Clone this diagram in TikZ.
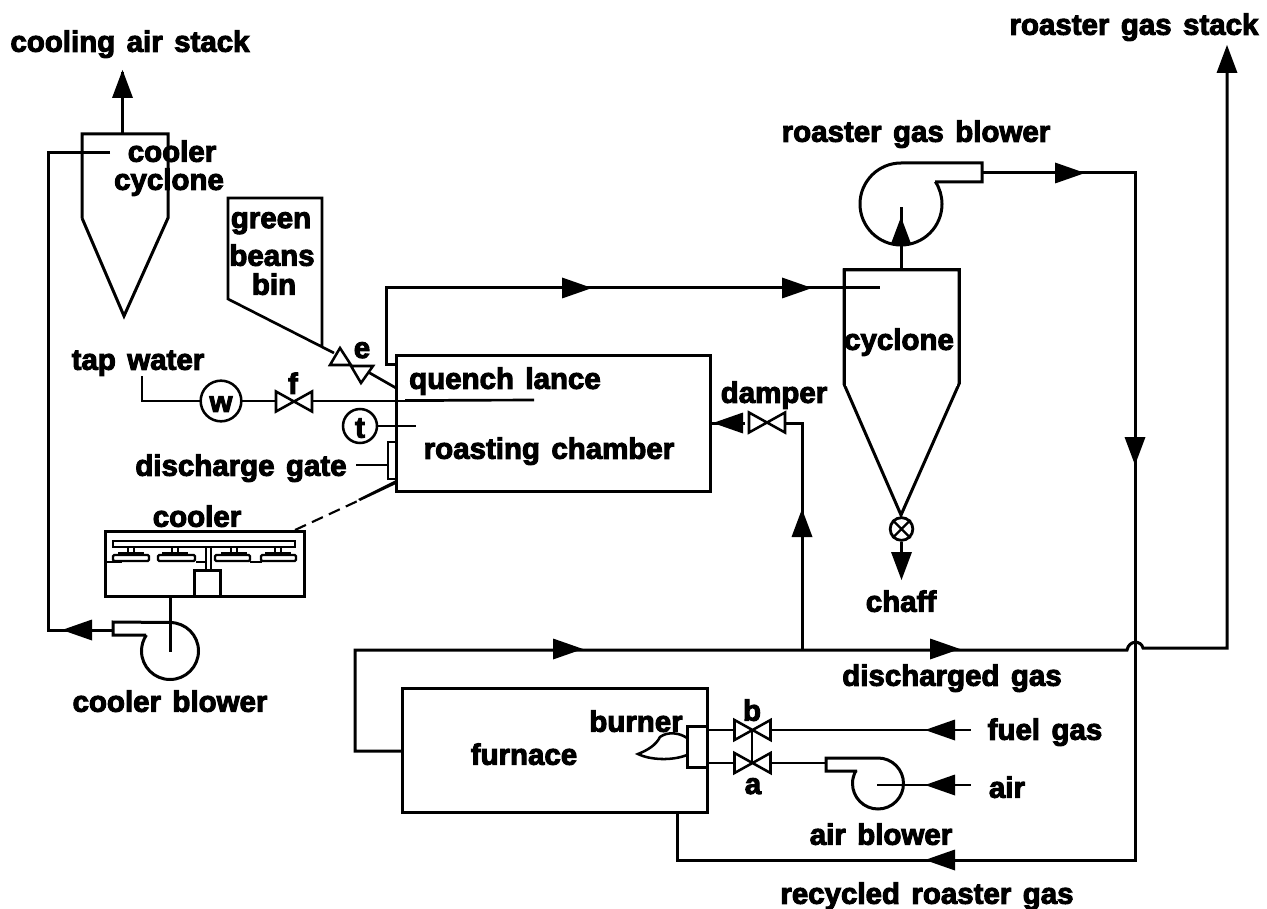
\documentclass[tikz,border=0pt]{standalone}
\usepackage{fontspec}
\setmainfont{Liberation Sans}[BoldFeatures={FakeBold=3.4,WordSpace=1.4}]
\usetikzlibrary{calc}
\tikzset{
  pipe/.style={line width=2.25pt,line join=miter,line cap=butt},
  thinline/.style={line width=1.5pt},
  lab/.style={font=\bfseries\fontsize{22.1}{23}\selectfont,inner sep=0pt,text=black,anchor=center,yshift=-0.9pt},
  ring/.style={circle,draw,line width=1.9pt,fill=white,inner sep=0pt},
  box/.style={rectangle,draw,line width=2.25pt,inner sep=0pt},
  flowR/.pic={\fill (0,0) -- (-30,-10.5) -- (-30,10.5) -- cycle;},
  flowL/.pic={\fill (0,0) -- (30,-10.5) -- (30,10.5) -- cycle;},
  flowU/.pic={\fill (0,0) -- (-10.5,28) -- (10.5,28) -- cycle;},
  flowD/.pic={\fill (0,0) -- (-10.5,-28) -- (10.5,-28) -- cycle;},
  bowtie/.pic={\draw[line width=1.9pt,fill=white,line join=miter] (-18,-10) -- (18,10) -- (18,-10) -- (-18,10) -- cycle;},
}
\begin{document}
\begin{tikzpicture}[x=0.75pt,y=-0.75pt]
\useasboundingbox (0,0) rectangle (1267,909);

% ---- named ports
\coordinate (stackC) at (122.5,72);
\coordinate (ccTop) at (122.5,134);
\coordinate (ccIn) at (110,153);
\coordinate (ccInC) at (48,153);
\coordinate (cbC) at (48,630);
\coordinate (cbOut) at (113,630);
\coordinate (cbHub) at (170,652);
\coordinate (coolerOut) at (170,596);
\coordinate (tapS) at (142,376);
\coordinate (tapC) at (142,401);
\coordinate (lanceEnd) at (534,400);
\coordinate (gateIn) at (356,465);
\coordinate (gateOut) at (388,465);
\coordinate (ventA) at (396,364);
\coordinate (ventB) at (386,364);
\coordinate (ventC) at (386,288);
\coordinate (cyIn) at (880,288);
\coordinate (cyTop) at (901,270);
\coordinate (rbHub) at (901,207);
\coordinate (rbOut) at (982,173);
\coordinate (rC1) at (1135,173);
\coordinate (rC2) at (1135,860);
\coordinate (rC3) at (677,860);
\coordinate (fBot) at (677,812);
\coordinate (fLeft) at (402,751);
\coordinate (fC1) at (355,751);
\coordinate (fC2) at (355,650);
\coordinate (jump1) at (1127,650);
\coordinate (jump2) at (1143,648);
\coordinate (sC) at (1227,648);
\coordinate (sEnd) at (1227,50);
\coordinate (tee) at (802,650);
\coordinate (dC) at (802,423);
\coordinate (tip) at (901,515);

% ---- equipment boxes
\node[box,minimum width=235.5pt,minimum height=102pt] (roast) at (553,423) {};
\node[box,minimum width=228.75pt,minimum height=93pt] (furn) at (554.5,750) {};
\node[box,minimum width=149.25pt,minimum height=48.75pt] (coolbox) at (204.5,563.5) {};
\node[box,minimum width=15pt,minimum height=30.75pt,fill=white] (burn) at (697,746.5) {};
\node[box,line width=1.5pt,minimum width=6pt,minimum height=27.75pt,fill=white] (gate) at (392,460.5) {};
\node[box,minimum width=19.5pt,minimum height=19.5pt] (drive) at (207,583) {};

% ---- cooler cyclone
\draw[pipe] (82,218) -- (82,134) -- (168,134) -- (168,218) -- (124,316) -- (82,218);
\draw[pipe] (ccTop) -- (stackC);
\pic at (122.5,70) {flowU};
\draw[pipe] (ccIn) -- (ccInC) -- (cbC) -- (cbOut);
\pic at (62,630) {flowL};

% ---- cooler internals
\draw[line width=1.7pt] (113,541) rectangle (295,547);
\foreach \a/\b/\c in {113/149/131,158/195/175,215/250/234,261/296/278}{
  \draw[line width=1.7pt,rounded corners=1pt] (\a,555) rectangle (\b,561);
  \draw[line width=1.2pt] (\c-3,547) rectangle (\c+3,553);
  \draw[line width=1.4pt] (\c-13,553) -- (\c+13,553);
}
\draw[line width=1.5pt] (206,547) -- (206,570) (211,547) -- (211,570);
\draw[line width=1.5pt] (105,562) -- (122,562) (196,562) -- (206,562) (250,562) -- (262,562);
\draw[line width=1.6pt,dash pattern=on 9pt off 5pt] (295,530) -- (362,499);
\fill (396,480) -- (396,484) -- (360,501) -- (358,499) -- cycle;

% ---- cooler blower
\draw[pipe] (coolerOut) -- (cbHub);
\draw[pipe] (146,635) -- (113,635) -- (113,622) -- (170,622.5) arc[start angle=90,end angle=-214,radius=21.375pt];

% ---- bin and feed valve
\draw[line width=2pt] (322,347) -- (322,198) -- (228,198) -- (228,299) -- (334,353);
\draw[line width=2pt] (368,372) -- (396,388);
\draw[line width=1.9pt,fill=white] (340,348) -- (330,365) -- (351,365) -- cycle;
\draw[line width=1.9pt,fill=white] (351,366) -- (373,366) -- (361,383) -- cycle;

% ---- tap water line
\draw[line width=2pt] (tapS) -- (tapC) -- (444,401);
\draw[line width=2pt] (405,400.5) -- (lanceEnd);
\node[ring,minimum size=30.5pt] (wring) at (221,401) {};
\pic at (294,401.5) {bowtie};
\node[ring,minimum size=25.5pt] (tring) at (360,426) {};
\draw[line width=1.5pt] (tring.east) -- (416,426);
\draw[thinline] (gateIn) -- (gateOut);

% ---- top vent to cyclone
\draw[pipe] (ventA) -- (ventB) -- (ventC) -- (cyIn);
\pic at (592,288) {flowR};
\pic at (812,288) {flowR};

% ---- cyclone
\draw[pipe] (844,384) -- (844,270) -- (959,270) -- (959,384) -- (tip) -- cycle;
\fill[white] (846,382) rectangle (957,386);
\draw[pipe] (844,384) -- (844,270) -- (959,270) -- (959,384);
\node[ring,line width=2.1pt,minimum size=17pt] (rv) at (901.5,529) {};
\draw[line width=1.7pt] (rv.45) -- (rv.225) (rv.135) -- (rv.315);
\draw[pipe] (rv.south) -- (901.5,556);
\pic at (901.5,580) {flowD};

% ---- roaster gas blower
\draw[pipe] (cyTop) -- (rbHub);
\pic at (901,217) {flowU};
\draw[pipe] (935,182) -- (982,182) -- (982,163) -- (901,163) arc[start angle=90,end angle=393,radius=30.75pt];

% ---- recycle loop
\draw[pipe] (rbOut) -- (rC1) -- (rC2) -- (rC3) -- (fBot);
\pic at (1085,173) {flowR};
\pic at (1135,465) {flowD};
\pic at (925,860) {flowL};

% ---- discharged gas
\draw[pipe] (fLeft) -- (fC1) -- (fC2) -- (jump1) .. controls (1129,640) and (1141,640) .. (jump2) -- (sC) -- (sEnd);
\pic at (583,649) {flowR};
\pic at (960,649) {flowR};
\pic at (1227,45) {flowU};

% ---- damper branch
\draw[pipe] (tee) -- (dC) -- (786,423);
\draw[pipe] (745,423) -- (roast.east |- dC);
\pic at (713,423) {flowL};
\pic at (767,422.5) {bowtie};
\pic at (802,509) {flowU};

% ---- burner
\draw[line width=1.9pt] (687,738) .. controls (680,733) and (668,731) .. (660,737) .. controls (656,745) and (648,750) .. (638,754) .. controls (650,760) and (672,761) .. (687,755);
\draw[line width=2pt] (707,730) -- (733,730) (707,763) -- (733,763);
\draw[line width=2pt] (772,730) -- (971,730);
\draw[line width=2pt] (772,763) -- (826,763);
\draw[line width=1.9pt] (752,730) -- (752,763);
\pic at (752.5,730) {bowtie};
\pic at (752.5,763) {bowtie};
\pic at (925,730) {flowL};

% ---- air blower
\draw[pipe] (857,771) -- (826,771) -- (826,758) -- (878,758) arc[start angle=90,end angle=-211,radius=19.125pt];
\draw[line width=2pt] (877,785) -- (971,785);
\pic at (925,785) {flowL};

% ---- labels
\node[lab] (l1) at (130,43) {cooling air stack};
\node[lab] (l2) at (1134,26) {roaster gas stack};
\node[lab] (l3) at (916,133) {roaster gas blower};
\node[lab] (l4) at (172,150) {cooler};
\node[lab] (l5) at (169,181) {cyclone};
\node[lab] (l6) at (271,222) {green};
\node[lab] (l7) at (272,254) {beans};
\node[lab] (l8) at (274,283) {bin};
\node[lab] (l9) at (362,349) {e};
\node[lab] (l10) at (138,362) {tap water};
\node[lab] (l11) at (293,382) {f};
\node[lab] (l12) at (221,403) {w};
\node[lab] (l13) at (360,427) {t};
\node[lab] (l14) at (505,380) {quench lance};
\node[lab] (l15) at (549,450) {roasting chamber};
\node[lab] (l16) at (241,467) {discharge gate};
\node[lab] (l17) at (197,515) {cooler};
\node[lab] (l18) at (774,394) {damper};
\node[lab] (l19) at (899,341) {cyclone};
\node[lab] (l20) at (901,600) {chaff};
\node[lab] (l21) at (952,677) {discharged gas};
\node[lab] (l22) at (170,700) {cooler blower};
\node[lab] (l23) at (636,720) {burner};
\node[lab] (l24) at (752,709) {b};
\node[lab] (l25) at (753,785) {a};
\node[lab] (l26) at (524,753) {furnace};
\node[lab] (l27) at (1045,731) {fuel gas};
\node[lab] (l28) at (1007,786) {air};
\node[lab] (l29) at (881,833) {air blower};
\node[lab] (l30) at (927,895) {recycled roaster gas};
\end{tikzpicture}
\end{document}
